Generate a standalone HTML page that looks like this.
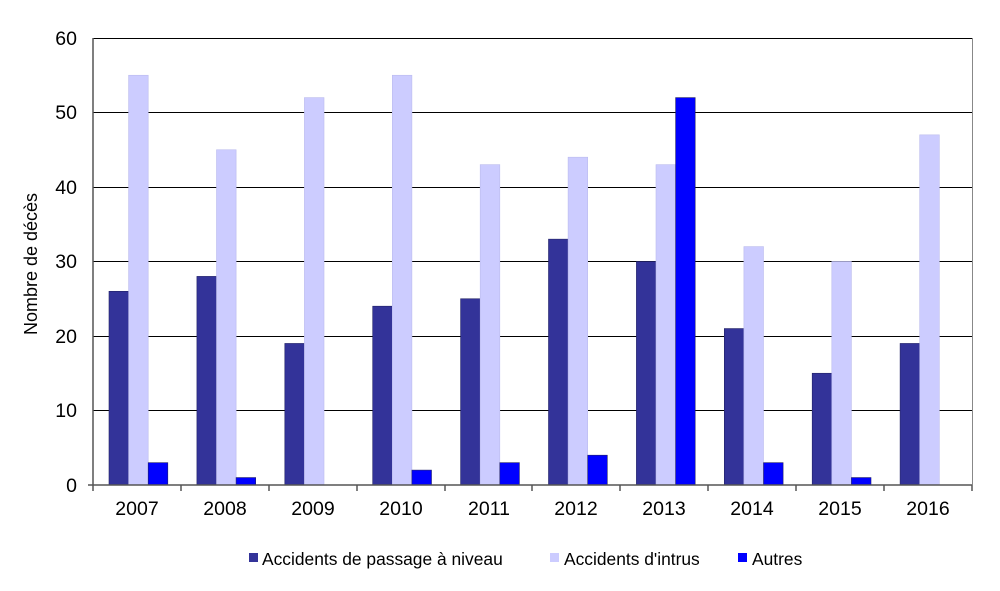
<!DOCTYPE html><html><head><style>body{margin:0;background:#fff}</style></head><body>
<svg width="1000" height="586" xmlns="http://www.w3.org/2000/svg" font-family="Liberation Sans, Arial, sans-serif">
<rect width="1000" height="586" fill="#fff"/>
<g stroke="#000" stroke-width="1">
<line x1="93" x2="972" y1="38.5" y2="38.5"/><line x1="93" x2="972" y1="112.5" y2="112.5"/><line x1="93" x2="972" y1="187.5" y2="187.5"/><line x1="93" x2="972" y1="261.5" y2="261.5"/><line x1="93" x2="972" y1="336.5" y2="336.5"/><line x1="93" x2="972" y1="410.5" y2="410.5"/>
<line x1="972.5" x2="972.5" y1="38" y2="485" stroke="#888"/>
</g>
<g stroke-width="0.6">
<g fill="#333399" stroke="#222266">
<rect x="109" y="291.3" width="19.6" height="193.7"/>
<rect x="196.9" y="276.4" width="19.6" height="208.6"/>
<rect x="284.8" y="343.45" width="19.6" height="141.55"/>
<rect x="372.7" y="306.2" width="19.6" height="178.8"/>
<rect x="460.6" y="298.75" width="19.6" height="186.25"/>
<rect x="548.5" y="239.15" width="19.6" height="245.85"/>
<rect x="636.4" y="261.5" width="19.6" height="223.5"/>
<rect x="724.3" y="328.55" width="19.6" height="156.45"/>
<rect x="812.2" y="373.25" width="19.6" height="111.75"/>
<rect x="900.1" y="343.45" width="19.6" height="141.55"/>
</g>
<g fill="#CCCCFF" stroke="#bbbbee">
<rect x="128.6" y="75.25" width="19.6" height="409.75"/>
<rect x="216.5" y="149.75" width="19.6" height="335.25"/>
<rect x="304.4" y="97.6" width="19.6" height="387.4"/>
<rect x="392.3" y="75.25" width="19.6" height="409.75"/>
<rect x="480.2" y="164.65" width="19.6" height="320.35"/>
<rect x="568.1" y="157.2" width="19.6" height="327.8"/>
<rect x="656" y="164.65" width="19.6" height="320.35"/>
<rect x="743.9" y="246.6" width="19.6" height="238.4"/>
<rect x="831.8" y="261.5" width="19.6" height="223.5"/>
<rect x="919.7" y="134.85" width="19.6" height="350.15"/>
</g>
<g fill="#0000FF" stroke="#222266">
<rect x="148.2" y="462.65" width="19.6" height="22.35"/>
<rect x="236.1" y="477.55" width="19.6" height="7.45"/>
<rect x="411.9" y="470.1" width="19.6" height="14.9"/>
<rect x="499.8" y="462.65" width="19.6" height="22.35"/>
<rect x="587.7" y="455.2" width="19.6" height="29.8"/>
<rect x="675.6" y="97.6" width="19.6" height="387.4"/>
<rect x="763.5" y="462.65" width="19.6" height="22.35"/>
<rect x="851.4" y="477.55" width="19.6" height="7.45"/>
</g>
</g>
<g stroke="#555" stroke-width="1.5"><line x1="93" x2="93" y1="38" y2="491"/><line x1="88" x2="972" y1="485" y2="485"/>
<line x1="181" x2="181" y1="485" y2="491"/><line x1="269" x2="269" y1="485" y2="491"/><line x1="357" x2="357" y1="485" y2="491"/><line x1="445" x2="445" y1="485" y2="491"/><line x1="532" x2="532" y1="485" y2="491"/><line x1="620" x2="620" y1="485" y2="491"/><line x1="708" x2="708" y1="485" y2="491"/><line x1="796" x2="796" y1="485" y2="491"/><line x1="884" x2="884" y1="485" y2="491"/><line x1="972" x2="972" y1="485" y2="491"/></g>
<g font-size="19.5" text-anchor="end"><text x="77" y="45">60</text><text x="77" y="119">50</text><text x="77" y="194">40</text><text x="77" y="268">30</text><text x="77" y="343">20</text><text x="77" y="417">10</text><text x="77" y="492">0</text></g>
<text transform="translate(37,264) rotate(-90)" font-size="18" text-anchor="middle">Nombre de décès</text>
<g font-size="19.5" text-anchor="middle">
<text x="137" y="515">2007</text><text x="225" y="515">2008</text><text x="313" y="515">2009</text><text x="401" y="515">2010</text><text x="489" y="515">2011</text><text x="576" y="515">2012</text><text x="664" y="515">2013</text><text x="752" y="515">2014</text><text x="840" y="515">2015</text><text x="928" y="515">2016</text>
</g>
<g font-size="17.4"><rect x="249" y="553" width="9" height="9" fill="#333399"/><text x="262" y="565">Accidents de passage à niveau</text>
<rect x="550" y="553" width="9" height="9" fill="#CCCCFF"/><text x="564" y="565">Accidents d'intrus</text>
<rect x="738" y="553" width="9" height="9" fill="#0000FF"/><text x="752" y="565">Autres</text></g>
</svg></body></html>
